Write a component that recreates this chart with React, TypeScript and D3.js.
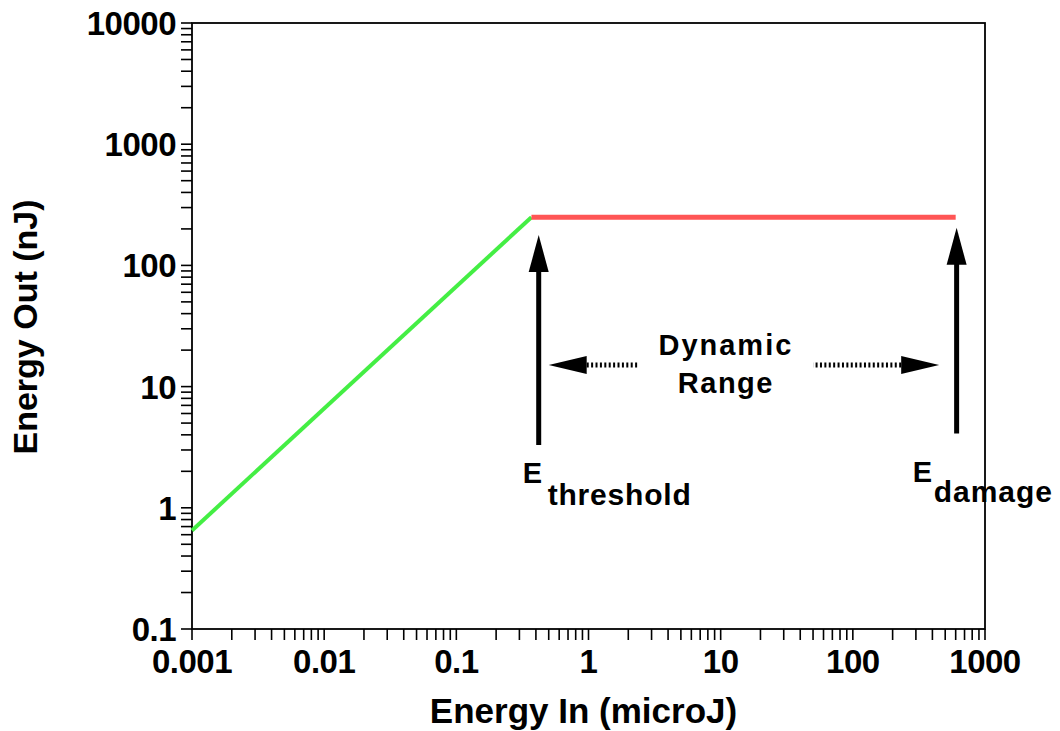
import * as d3 from "d3"

// data
const linearIn = [0.001, 0.37]
const linearOut = [0.65, 250]
const saturatedIn = [0.37, 600]
const saturatedOut = [250, 250]

const xTickLabels = ["0.001", "0.01", "0.1", "1", "10", "100", "1000"]
const yTickLabels = ["0.1", "1", "10", "100", "1000", "10000"]

// annotation anchors (data coords)
const thresholdX = 0.42
const damageX = 610
const arrowTopOut = [178, 204]
const arrowBottomOut = [3.3, 4.1]
const rangeY = 15.1
const leftArrowIn = [0.5, 2.4]
const rightArrowIn = [50, 450]

const W = 1060
const H = 731
const margin = { top: 23, right: 75, bottom: 102, left: 192 }
const FONT = "'Liberation Sans', Arial, Helvetica, sans-serif"

export default function App() {
  const x = d3.scaleLog().domain([0.001, 1000]).range([margin.left, W - margin.right])
  const y = d3.scaleLog().domain([0.1, 10000]).range([H - margin.bottom, margin.top])
  const [x0, x1] = x.range()
  const [y0, y1] = y.range()

  const line = d3.line<[number, number]>().x(d => x(d[0])).y(d => y(d[1]))
  const green = line(linearIn.map((v, i) => [v, linearOut[i]]) as [number, number][])
  const red = line(saturatedIn.map((v, i) => [v, saturatedOut[i]]) as [number, number][])

  const xMinor = x.ticks()
  const yMinor = y.ticks()
  const xMajor = xTickLabels.map(Number)
  const yMajor = yTickLabels.map(Number)

  const upArrow = (ax: number, top: number, bottom: number) => {
    const px = x(ax)
    const pt = y(top)
    const pb = y(bottom)
    const headH = 37
    const headW = 10
    return (
      <g>
        <line x1={px} x2={px} y1={pt + headH - 2} y2={pb} stroke="#000" strokeWidth={5} />
        <path d={`M${px},${pt} L${px + headW},${pt + headH} L${px - headW},${pt + headH} Z`} fill="#000" />
      </g>
    )
  }

  const sideArrow = (tip: number, tail: number, yy: number) => {
    const pTip = x(tip)
    const pTail = x(tail)
    const py = y(yy)
    const dir = pTail > pTip ? 1 : -1
    const headL = 38
    const headW = 9
    const base = pTip + dir * headL
    return (
      <g>
        <line x1={base} x2={pTail} y1={py} y2={py} stroke="#000" strokeWidth={5} strokeDasharray="2,2.4" />
        <path d={`M${pTip},${py} L${base},${py - headW} L${base},${py + headW} Z`} fill="#000" />
      </g>
    )
  }

  const thX = x(thresholdX)
  const dmX = x(damageX)
  const midX = (x(leftArrowIn[1]) + x(rightArrowIn[0])) / 2

  return (
    <div style={{ position: "absolute", left: 0, top: 0 }}>
      <svg width={W} height={H} style={{ display: "block", background: "#fff" }} fontFamily={FONT} fontWeight="bold">
        <rect x={0} y={0} width={W} height={H} fill="#fff" />

        {/* ticks at every 1..9 multiple, outward */}
        {xMinor.map((t, i) => (
          <line key={"xt" + i} x1={x(t)} x2={x(t)} y1={y0} y2={y0 + 11} stroke="#000" strokeWidth={1.6} />
        ))}
        {yMinor.map((t, i) => (
          <line key={"yt" + i} x1={x0 - 11} x2={x0} y1={y(t)} y2={y(t)} stroke="#000" strokeWidth={1.6} />
        ))}

        {/* frame */}
        <rect x={x0} y={y1} width={x1 - x0} height={y0 - y1} fill="none" stroke="#000" strokeWidth={1.8} />

        {/* tick labels */}
        {xMajor.map((t, i) => (
          <text key={"xl" + i} x={x(t)} y={y0 + 44} textAnchor="middle" fontSize={33} letterSpacing={-0.5}>
            {xTickLabels[i]}
          </text>
        ))}
        {yMajor.map((t, i) => (
          <text key={"yl" + i} x={x0 - 16} y={y(t) + 12} textAnchor="end" fontSize={33} letterSpacing={-0.5}>
            {yTickLabels[i]}
          </text>
        ))}

        {/* axis titles */}
        <text x={(x0 + x1) / 2 - 5} y={723} textAnchor="middle" fontSize={35}>
          Energy In (microJ)
        </text>
        <text transform={`translate(37,327) rotate(-90)`} textAnchor="middle" fontSize={34}>
          Energy Out (nJ)
        </text>

        {/* data lines */}
        <path d={green ?? ""} fill="none" stroke="#44ee44" strokeWidth={4} />
        <path d={red ?? ""} fill="none" stroke="#ff5555" strokeWidth={5} />

        {/* annotations */}
        {upArrow(thresholdX, arrowTopOut[0], arrowBottomOut[0])}
        {upArrow(damageX, arrowTopOut[1], arrowBottomOut[1])}
        {sideArrow(leftArrowIn[0], leftArrowIn[1], rangeY)}
        {sideArrow(rightArrowIn[1], rightArrowIn[0], rangeY)}

        <text x={midX} y={y(rangeY) - 10} textAnchor="middle" fontSize={29} letterSpacing={2}>
          Dynamic
        </text>
        <text x={midX} y={y(rangeY) + 28} textAnchor="middle" fontSize={29} letterSpacing={1.5}>
          Range
        </text>

        <text x={thX - 16} y={483} fontSize={29}>E</text>
        <text x={thX + 9} y={505} fontSize={30} letterSpacing={0.8}>threshold</text>
        <text x={dmX - 44} y={482} fontSize={29}>E</text>
        <text x={dmX - 23} y={502} fontSize={30} letterSpacing={1}>damage</text>
      </svg>
    </div>
  )
}
